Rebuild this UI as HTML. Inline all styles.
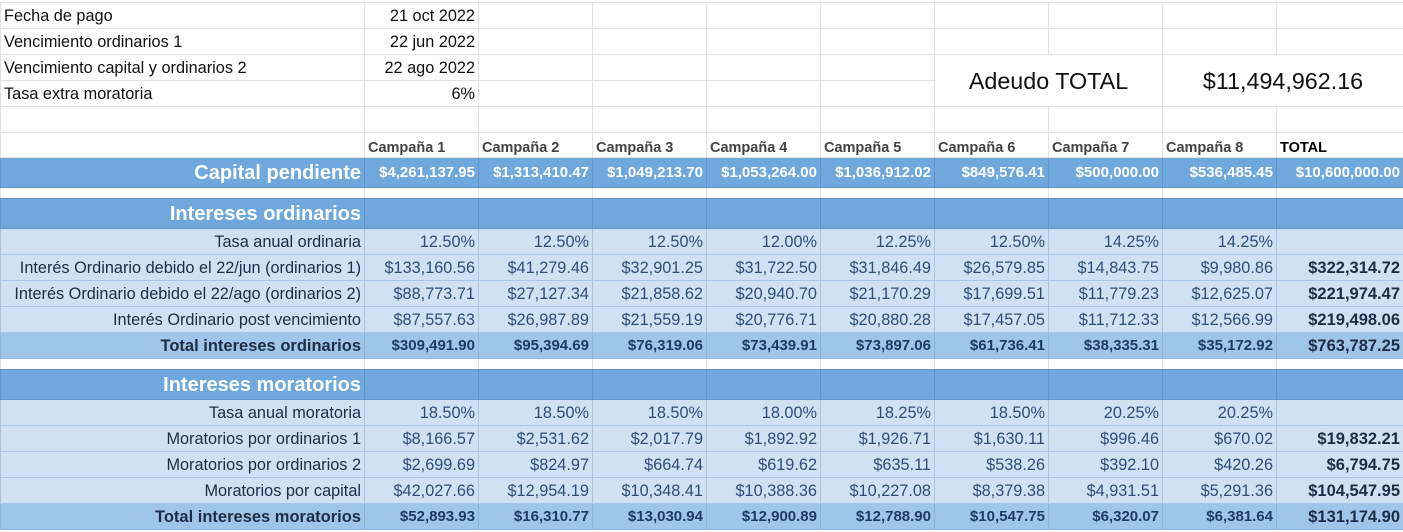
<!DOCTYPE html>
<html><head><meta charset="utf-8"><style>
html,body{margin:0;padding:0;background:#fff;width:1403px;height:532px;overflow:hidden}
table{border-collapse:collapse;table-layout:fixed;width:1403px;font-family:"Liberation Sans",Arial,sans-serif;font-size:16.3px;margin-top:2px}
td{border:1px solid #e2e2e2;padding:0 3px;white-space:nowrap;overflow:hidden;text-align:right;color:#111;height:25px;line-height:18px}
.l{text-align:left}
.h td{font-weight:bold;font-size:14.5px;color:#444;text-align:left;height:24px;vertical-align:bottom;padding-bottom:0px}
.cap td{background:#6fa8dc;border-color:#5f95c8;color:#fff;font-weight:bold;font-size:15px;height:29px}
.cap td.t{font-size:20px}
.gap td{height:10px;border-left-color:#e2e2e2;border-right-color:#e2e2e2;border-top-color:#5f95c8;border-bottom-color:#5f95c8}
.sec td{background:#6fa8dc;border-color:#5f95c8;height:29px}
.sec td.t{color:#fff;font-weight:bold;font-size:20px}
.r td{background:#cfe2f3;border-color:#a8c6e4;color:#2e4d78}
.r td.t{color:#1c2d44}
.r td.b{color:#1c2d44;font-weight:bold;font-size:16.5px}
.tot td{background:#9fc5e8;border-color:#8ab4dc;color:#1e3a66;font-weight:bold;font-size:15px}
.tot td.t,.tot td.b{font-size:16.5px;color:#1c2d44}
.big{font-size:23.3px;text-align:center;color:#111}
</style></head><body>
<table>
<colgroup><col style="width:364px"><col style="width:114px"><col style="width:114px"><col style="width:114px"><col style="width:114px"><col style="width:114px"><col style="width:114px"><col style="width:114px"><col style="width:114px"><col style="width:127px"></colgroup>
<tr><td class="l">Fecha de pago</td><td>21 oct 2022</td><td></td><td></td><td></td><td></td><td></td><td></td><td></td><td></td></tr>
<tr><td class="l">Vencimiento ordinarios 1</td><td>22 jun 2022</td><td></td><td></td><td></td><td></td><td></td><td></td><td></td><td></td></tr>
<tr><td class="l">Vencimiento capital y ordinarios 2</td><td>22 ago 2022</td><td></td><td></td><td></td><td></td><td class="big" colspan="2" rowspan="2">Adeudo TOTAL</td><td class="big" colspan="2" rowspan="2">$11,494,962.16</td></tr>
<tr><td class="l">Tasa extra moratoria</td><td>6%</td><td></td><td></td><td></td><td></td></tr>
<tr><td></td><td></td><td></td><td></td><td></td><td></td><td></td><td></td><td></td><td></td></tr>
<tr class="h"><td></td><td>Campaña 1</td><td>Campaña 2</td><td>Campaña 3</td><td>Campaña 4</td><td>Campaña 5</td><td>Campaña 6</td><td>Campaña 7</td><td>Campaña 8</td><td style="color:#000">TOTAL</td></tr>
<tr class="cap"><td class="t">Capital pendiente</td><td>$4,261,137.95</td><td>$1,313,410.47</td><td>$1,049,213.70</td><td>$1,053,264.00</td><td>$1,036,912.02</td><td>$849,576.41</td><td>$500,000.00</td><td>$536,485.45</td><td>$10,600,000.00</td></tr>
<tr class="gap"><td></td><td></td><td></td><td></td><td></td><td></td><td></td><td></td><td></td><td></td></tr>
<tr class="sec"><td class="t">Intereses ordinarios</td><td></td><td></td><td></td><td></td><td></td><td></td><td></td><td></td><td></td></tr>
<tr class="r"><td class="t">Tasa anual ordinaria</td><td>12.50%</td><td>12.50%</td><td>12.50%</td><td>12.00%</td><td>12.25%</td><td>12.50%</td><td>14.25%</td><td>14.25%</td><td></td></tr>
<tr class="r"><td class="t">Interés Ordinario debido el 22/jun (ordinarios 1)</td><td>$133,160.56</td><td>$41,279.46</td><td>$32,901.25</td><td>$31,722.50</td><td>$31,846.49</td><td>$26,579.85</td><td>$14,843.75</td><td>$9,980.86</td><td class="b">$322,314.72</td></tr>
<tr class="r"><td class="t">Interés Ordinario debido el 22/ago (ordinarios 2)</td><td>$88,773.71</td><td>$27,127.34</td><td>$21,858.62</td><td>$20,940.70</td><td>$21,170.29</td><td>$17,699.51</td><td>$11,779.23</td><td>$12,625.07</td><td class="b">$221,974.47</td></tr>
<tr class="r"><td class="t">Interés Ordinario post vencimiento</td><td>$87,557.63</td><td>$26,987.89</td><td>$21,559.19</td><td>$20,776.71</td><td>$20,880.28</td><td>$17,457.05</td><td>$11,712.33</td><td>$12,566.99</td><td class="b">$219,498.06</td></tr>
<tr class="tot"><td class="t">Total intereses ordinarios</td><td>$309,491.90</td><td>$95,394.69</td><td>$76,319.06</td><td>$73,439.91</td><td>$73,897.06</td><td>$61,736.41</td><td>$38,335.31</td><td>$35,172.92</td><td class="b">$763,787.25</td></tr>
<tr class="gap"><td></td><td></td><td></td><td></td><td></td><td></td><td></td><td></td><td></td><td></td></tr>
<tr class="sec"><td class="t">Intereses moratorios</td><td></td><td></td><td></td><td></td><td></td><td></td><td></td><td></td><td></td></tr>
<tr class="r"><td class="t">Tasa anual moratoria</td><td>18.50%</td><td>18.50%</td><td>18.50%</td><td>18.00%</td><td>18.25%</td><td>18.50%</td><td>20.25%</td><td>20.25%</td><td></td></tr>
<tr class="r"><td class="t">Moratorios por ordinarios 1</td><td>$8,166.57</td><td>$2,531.62</td><td>$2,017.79</td><td>$1,892.92</td><td>$1,926.71</td><td>$1,630.11</td><td>$996.46</td><td>$670.02</td><td class="b">$19,832.21</td></tr>
<tr class="r"><td class="t">Moratorios por ordinarios 2</td><td>$2,699.69</td><td>$824.97</td><td>$664.74</td><td>$619.62</td><td>$635.11</td><td>$538.26</td><td>$392.10</td><td>$420.26</td><td class="b">$6,794.75</td></tr>
<tr class="r"><td class="t">Moratorios por capital</td><td>$42,027.66</td><td>$12,954.19</td><td>$10,348.41</td><td>$10,388.36</td><td>$10,227.08</td><td>$8,379.38</td><td>$4,931.51</td><td>$5,291.36</td><td class="b">$104,547.95</td></tr>
<tr class="tot"><td class="t">Total intereses moratorios</td><td>$52,893.93</td><td>$16,310.77</td><td>$13,030.94</td><td>$12,900.89</td><td>$12,788.90</td><td>$10,547.75</td><td>$6,320.07</td><td>$6,381.64</td><td class="b">$131,174.90</td></tr>
</table>
</body></html>
